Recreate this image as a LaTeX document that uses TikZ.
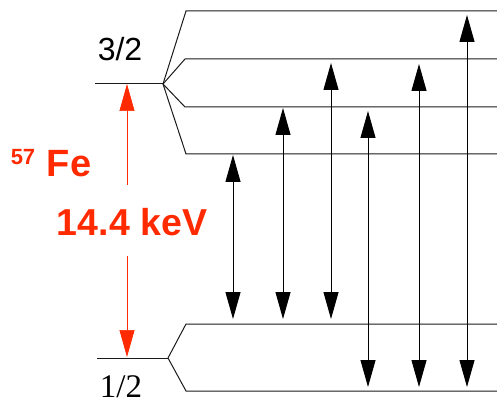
\documentclass[tikz,border=0pt]{standalone}
\usepackage{fontspec}
\setmainfont{Liberation Serif}
\setsansfont{Liberation Sans}
\usetikzlibrary{arrows.meta}
\definecolor{FeRed}{HTML}{FF2A00}
\definecolor{LevGray}{HTML}{1A1A1A}

\begin{document}
\begin{tikzpicture}[x=1pt,y=-1pt,
  lev/.style={draw=LevGray,line width=1pt},
  trans/.style={{Triangle[length=27pt,width=15pt]}-{Triangle[length=27pt,width=15pt]},
    line width=1pt,color=black},
  gap/.style={-{Triangle[length=27pt,width=15pt]},line width=0.7pt,color=FeRed},
  spin/.style={inner sep=0pt,anchor=base},
  lbl/.style={inner sep=0pt,anchor=base,text=FeRed,font=\sffamily\bfseries}
]
\useasboundingbox (0,0) rectangle (497,403);
\coordinate (R) at (497,0);
% excited state and its four sublevels
\coordinate (ex) at (95,84);
\coordinate (exf) at (163,84);
\coordinate (m3) at (186,11);
\coordinate (m1) at (185,59);
\coordinate (mm1) at (185,107);
\coordinate (mm3) at (186,154);
\draw[lev] (ex) -- (exf);
\foreach \s in {m3,m1,mm1,mm3}
  \draw[lev] (exf) -- (\s) -- (\s -| R);
% ground state and its two sublevels
\coordinate (gr) at (97,358);
\coordinate (grf) at (168,358);
\coordinate (gp) at (186,324);
\coordinate (gm) at (186,391);
\draw[lev] (gr) -- (grf);
\foreach \s in {gp,gm}
  \draw[lev] (grf) -- (\s) -- (\s -| R);
% six lines
\foreach \n/\x/\ya/\yb in {1/233/155/319,2/283/108/319,3/331/63/319,
    4/368/111/387,5/419/64/387,6/467/15/387}{
  \coordinate (t\n u) at (\x,\ya);
  \coordinate (t\n l) at (\x,\yb);
  \draw[trans] (t\n u) -- (t\n l);
}
% gamma energy
\coordinate (ra) at (127,84);
\coordinate (rb) at (127,185);
\coordinate (rc) at (127,256);
\coordinate (rd) at (127,357);
\draw[gap] (rb) -- (ra);
\draw[gap] (rc) -- (rd);
\node[spin,font=\sffamily\fontsize{32}{32}\selectfont] (s32) at (120,61) {3/2};
\node[spin,font=\fontsize{33}{33}\selectfont] (s12) at (121,397) {1/2};
\node[lbl,font=\sffamily\bfseries\fontsize{22}{22}\selectfont] (iso) at (23,165) {57};
\node[lbl,font=\sffamily\bfseries\fontsize{38}{38}\selectfont] (fe) at (69,177) {Fe};
\node[lbl,font=\sffamily\bfseries\fontsize{37.5}{37.5}\selectfont] (en) at (132,235) {14.4 keV};
\end{tikzpicture}
\end{document}
